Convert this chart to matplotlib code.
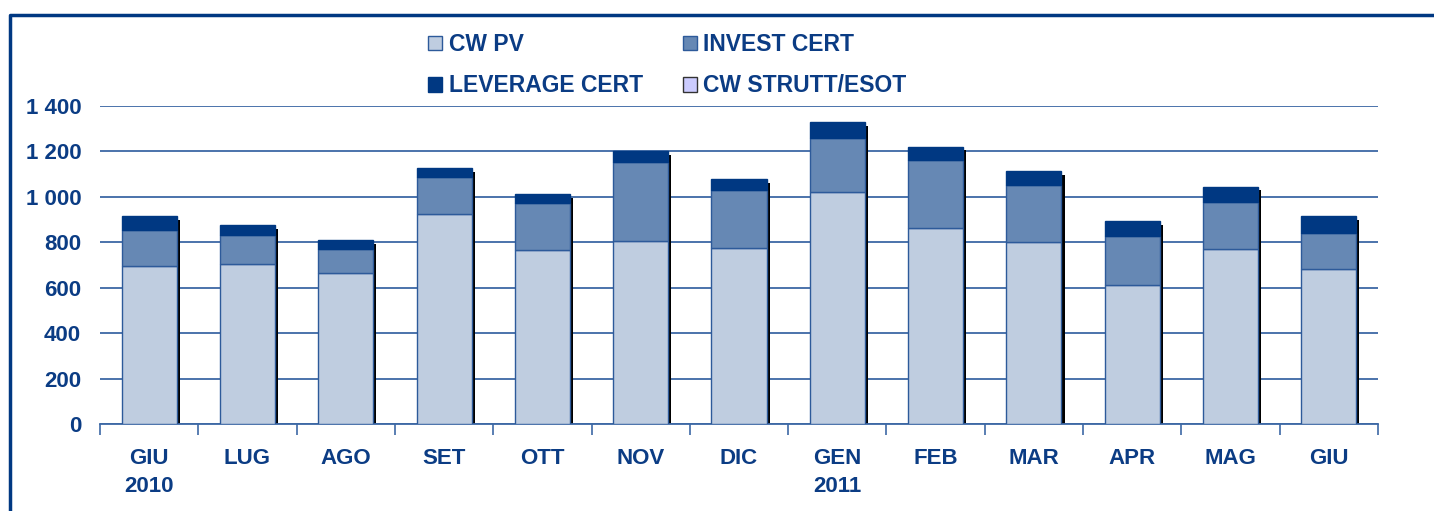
import matplotlib.pyplot as plt
import matplotlib.patheffects as pe
from matplotlib.lines import Line2D
from matplotlib.ticker import FuncFormatter, FixedLocator
import numpy as np

plt.rcParams['font.family'] = ['Liberation Sans', 'DejaVu Sans']
plt.rcParams['font.weight'] = 'bold'

months = ["GIU\n2010", "LUG", "AGO", "SET", "OTT", "NOV", "DIC",
          "GEN\n2011", "FEB", "MAR", "APR", "MAG", "GIU"]
cw_pv = [696, 704, 665, 925, 766, 806, 775, 1022, 863, 801, 612, 771, 683]
invest_cert = [158, 128, 105, 163, 207, 348, 255, 237, 299, 251, 216, 207, 158]
leverage_cert = [62, 44, 40, 39, 40, 48, 49, 71, 58, 62, 66, 66, 75]
cw_strutt = [0, 0, 0, 0, 0, 0, 0, 0, 0, 0, 0, 0, 0]

TXT = "#0b3c84"
c_pv = "#bfcde0"
c_inv = "#6688b4"
c_lev = "#003882"
c_str = "#ccccff"
edge = "#2d5a9a"

fig = plt.figure(figsize=(14.34, 5.11), dpi=100)
ax = fig.add_axes([100 / 1434, 1 - 424 / 511, 1278 / 1434, 318 / 511])

x = np.arange(len(months))
w = 0.56
pv = np.array(cw_pv)
inv = np.array(invest_cert)
lev = np.array(leverage_cert)
st = np.array(cw_strutt)
tot = pv + inv + lev + st

# shadow behind the whole stack
ax.bar(x, tot, w, facecolor="none", edgecolor="none", zorder=2,
       path_effects=[pe.SimplePatchShadow(offset=(2.2, -2.6), shadow_rgbFace="black", alpha=1.0)])

ax.bar(x, pv, w, color=c_pv, edgecolor=edge, linewidth=1, zorder=3, label="CW PV")
ax.bar(x, inv, w, bottom=pv, color=c_inv, edgecolor=edge, linewidth=1, zorder=3, label="INVEST CERT")
ax.bar(x, lev, w, bottom=pv + inv, color=c_lev, edgecolor=c_lev, linewidth=1, zorder=3, label="LEVERAGE CERT")
ax.bar(x, st, w, bottom=pv + inv + lev, color=c_str, linewidth=0, zorder=3, label="CW STRUTT/ESOT")

ax.set_xlim(-0.5, len(months) - 0.5)
ax.set_ylim(0, 1400)
ax.set_yticks(np.arange(0, 1401, 200))
ax.yaxis.set_major_formatter(FuncFormatter(lambda v, p: f"{int(v):,}".replace(",", " ")))
ax.grid(axis="y", color="#3d68a5", linewidth=1.3, zorder=0)
ax.set_axisbelow(True)

ax.set_xticks(x)
ax.set_xticklabels(months, linespacing=1.4)
ax.xaxis.set_minor_locator(FixedLocator(np.arange(-0.5, len(months), 1)))
ax.tick_params(axis="x", which="major", length=0, pad=17.5, labelsize=16, labelcolor=TXT)
ax.tick_params(axis="x", which="minor", length=8, width=1.2, color="#3d68a5", direction="out")
ax.tick_params(axis="y", length=0, pad=13.5, labelsize=16, labelcolor=TXT)

for s in ["top", "right", "left"]:
    ax.spines[s].set_visible(False)
ax.spines["bottom"].set_color("#3d68a5")
ax.spines["bottom"].set_linewidth(1.3)

h, l = ax.get_legend_handles_labels()
order = [0, 2, 1, 3]
leg = fig.legend([h[i] for i in order], [l[i] for i in order], ncol=2,
                 loc="upper left", bbox_to_anchor=(428 / 1434, 1 - 33 / 511),
                 frameon=False, fontsize=16.5, handlelength=0.62, handleheight=0.62,
                 handletextpad=0.28, columnspacing=1.75, labelspacing=0.8,
                 borderpad=0, borderaxespad=0)
for t in leg.get_texts():
    t.set_color(TXT)
leg.legend_handles[3].set_edgecolor("#333333")
leg.legend_handles[3].set_linewidth(1)

# outer frame: left and top edges
fig.add_artist(Line2D([10 / 1434, 10 / 1434, 1], [0, 1 - 15 / 511, 1 - 15 / 511],
                      transform=fig.transFigure, color="#003882", linewidth=2.5))

fig.savefig("out.png", dpi=100)
